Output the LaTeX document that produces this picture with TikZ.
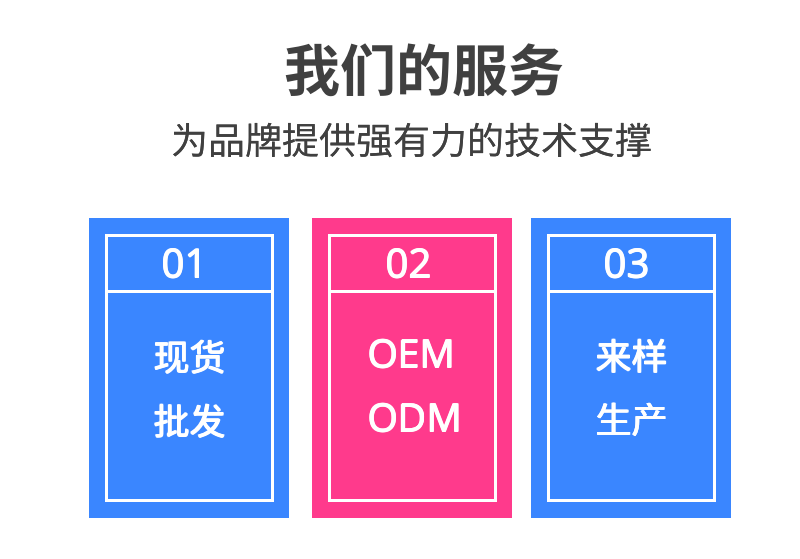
\documentclass[tikz,border=0pt]{standalone}
\usepackage{fontspec}
\setmainfont{Open Sans}
\newfontfamily\cjk{Noto Sans CJK SC}
\newfontfamily\cjkb{Noto Sans CJK SC Bold}
\newcommand\heavy[2][1.2pt]{\makebox[0pt][l]{\kern#1#2}\makebox[0pt][l]{\raisebox{0.7pt}{\kern0.6pt#2}}\makebox[0pt][l]{\raisebox{0.7pt}{\kern#1#2}}#2}
\definecolor{cardblue}{HTML}{3A86FF}
\definecolor{cardpink}{HTML}{FF3A8C}
\definecolor{titlegray}{HTML}{404040}
\begin{document}
\begin{tikzpicture}[x=1pt,y=-1pt,
  card/.style={fill=#1,draw=none},
  frame/.style={draw=white,line width=3pt},
  num/.style={text=white,inner sep=0pt,font=\fontsize{40}{40}\selectfont},
  body/.style={text=white,inner sep=0pt,font=\cjk\fontsize{36}{36}\selectfont},
  latin/.style={text=white,inner sep=0pt,anchor=west,font=\fontsize{39}{39}\selectfont}]
\useasboundingbox[fill=white] (0,0) rectangle (800,559);
% title
\node[inner sep=0pt,text=titlegray,font=\cjkb\fontsize{56}{56}\selectfont] (title) at (424,70) {我们的服务};
\node[inner sep=0pt,text=titlegray,font=\cjk\fontsize{37}{37}\selectfont] (sub) at (412,141) {\makebox[0pt][l]{\kern0.4pt 为品牌提供强有力的技术支撑}为品牌提供强有力的技术支撑};
% cards
\foreach \x/\c/\n in {89/cardblue/c1, 312/cardpink/c2, 531/cardblue/c3}{
  \fill[\c] (\x,218) rectangle ++(200,300);
  \draw[frame] (\x+17.5,235.5) rectangle (\x+183.5,500.5);
  \draw[frame] (\x+17.5,291.5) -- (\x+183.5,291.5);
}
\node[num] (n1) at (184,264) {\heavy[1pt]{01}};
\node[num] (n2) at (408,264) {\heavy[1pt]{02}};
\node[num] (n3) at (626,264) {\heavy[1pt]{03}};
\node[body] (t1a) at (189,357) {\heavy{现货}};
\node[body] (t1b) at (189,421) {\heavy{批发}};
\node[latin] (t2a) at (367,354) {\heavy[1pt]{OEM}};
\node[latin] (t2b) at (367,418) {\heavy[1pt]{ODM}};
\node[body] (t3a) at (631,356) {\heavy{来样}};
\node[body] (t3b) at (631,420) {\heavy{生产}};
\end{tikzpicture}
\end{document}
